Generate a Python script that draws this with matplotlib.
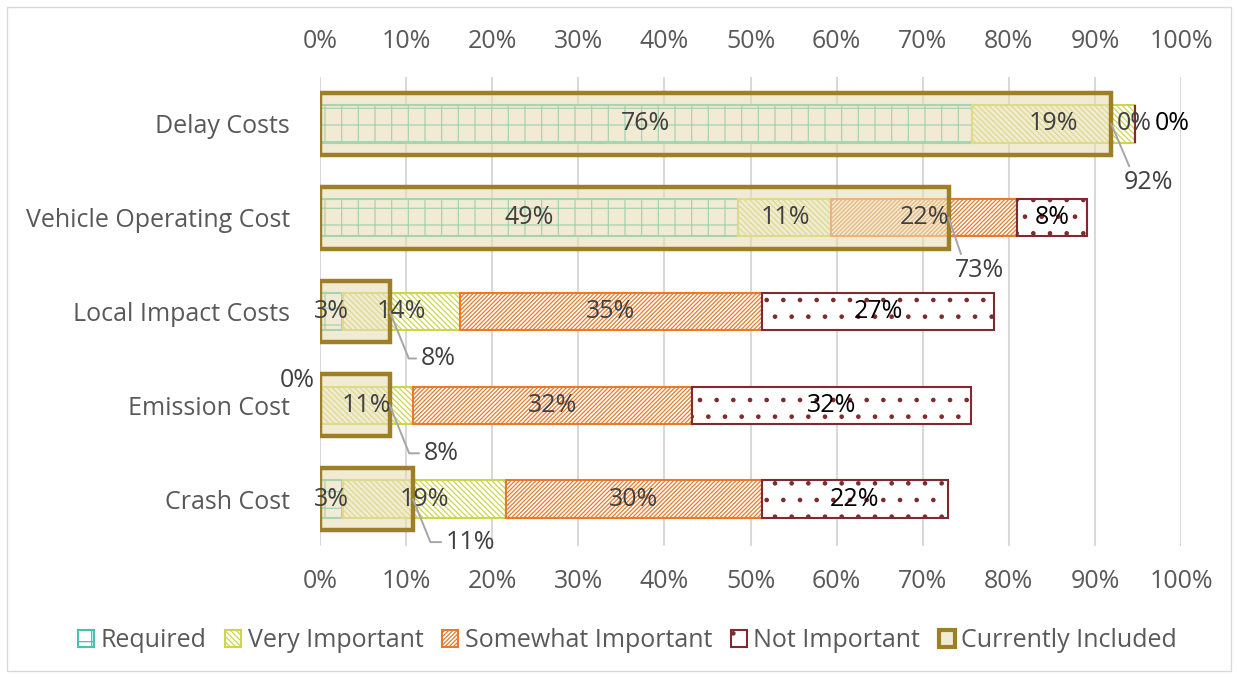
import matplotlib.pyplot as plt
from matplotlib.patches import Patch, Rectangle

plt.rcParams['font.family'] = ['Open Sans', 'DejaVu Sans']
plt.rcParams['hatch.linewidth'] = 0.9

# survey shares in percent
categories = ['Delay Costs', 'Vehicle Operating Cost', 'Local Impact Costs',
              'Emission Cost', 'Crash Cost']
required = [75.7, 48.6, 2.7, 0.0, 2.7]
very_important = [18.9, 10.8, 13.5, 10.8, 18.9]
somewhat_important = [0.0, 21.6, 35.1, 32.4, 29.7]
not_important = [0.0, 8.1, 27.0, 32.4, 21.6]
currently_included = [91.9, 73.0, 8.1, 8.1, 10.8]

series_names = ['Required', 'Very Important', 'Somewhat Important', 'Not Important']
series = [required, very_important, somewhat_important, not_important]
colors = ['#45C3AE', '#CDD54F', '#E97A2A', '#7F2A2F']
hatches = ['+', '\\' * 6, '/' * 8, '.']
label_colors = ['#404040', '#404040', '#404040', '#000000']

cream = (233/255, 222/255, 182/255, 0.6)
gold = '#9C7F26'

fig = plt.figure(figsize=(12.38, 6.78), dpi=100)
ax = fig.add_axes([0.2585, 0.1947, 0.6955, 0.6917])

ypos = list(range(len(categories)))

# stacked bars
left = [0.0] * len(categories)
for k, vals in enumerate(series):
    ax.barh(ypos, vals, left=left, height=0.4, facecolor='white',
            edgecolor=colors[k], hatch=hatches[k], linewidth=1.5, zorder=2)
    for i, v in enumerate(vals):
        cx = left[i] + v / 2
        dx, dy = 0, 0
        if v == 0 and k == 3:
            dx = 38
        if v == 0 and k == 0:
            dx, dy = -23, 25
        ax.annotate(f'{round(v)}%', (cx, i), xytext=(dx * 0.72, dy * 0.72),
                    textcoords='offset points', ha='center', va='center',
                    fontsize=18, color=label_colors[k], zorder=6)
    left = [a + b for a, b in zip(left, vals)]

# currently included (overlay)
ax.barh(ypos, currently_included, height=0.66, facecolor=cream,
        edgecolor=gold, linewidth=3.2, zorder=3)

# leader labels for currently included
ci_offsets = [(37, -59), (31, -53), (48, -47), (51, -48), (57, -43)]
for i, v in enumerate(currently_included):
    dx, dy = ci_offsets[i]
    if i < 2:
        ap = dict(arrowstyle='-', color='#A6A6A6', lw=1.4, shrinkA=1, shrinkB=0,
                  relpos=(0.15, 1.0))
    else:
        ap = dict(arrowstyle='-', color='#A6A6A6', lw=1.4, shrinkA=1, shrinkB=0,
                  relpos=(0.0, 0.5), connectionstyle='angle,angleA=0,angleB=-68,rad=0')
    ax.annotate(f'{round(v)}%', (v, i), xytext=(dx * 0.72, dy * 0.72),
                textcoords='offset points', ha='center', va='center',
                fontsize=18, color='#404040', arrowprops=ap, zorder=6)

ax.set_xlim(0, 100)
ax.set_ylim(len(categories) - 0.5, -0.5)
ax.set_xticks(range(0, 101, 10))
ax.set_xticklabels([f'{t}%' for t in range(0, 101, 10)])
ax.set_yticks(ypos)
ax.set_yticklabels(categories)
ax.tick_params(axis='x', top=False, bottom=False, labeltop=True, labelbottom=True,
               labelsize=18, labelcolor='#595959', pad=13)
ax.tick_params(axis='y', left=False, labelsize=18, labelcolor='#595959', pad=18)
ax.grid(axis='x', color='#D9D9D9', linewidth=1.5, zorder=0)
ax.set_axisbelow(True)
for s in ax.spines.values():
    s.set_visible(False)

handles = [Patch(facecolor='white', edgecolor=colors[k], hatch=hatches[k], linewidth=1.5)
           for k in range(4)]
handles.append(Patch(facecolor='#F2EBD3', edgecolor=gold, linewidth=3))
fig.legend(handles, series_names + ['Currently Included'], loc='center',
           bbox_to_anchor=(0.507, 0.0546), ncol=5, frameon=False, fontsize=18,
           handlelength=0.65, handleheight=0.65, handletextpad=0.25,
           columnspacing=0.75, labelcolor='#595959')

# chart border
fig.patches.append(Rectangle((7 / 1238, 7 / 678), 1 - 14 / 1238, 1 - 14 / 678,
                             transform=fig.transFigure, fill=False,
                             edgecolor='#D9D9D9', linewidth=1))

fig.savefig('out.png', dpi=100)
